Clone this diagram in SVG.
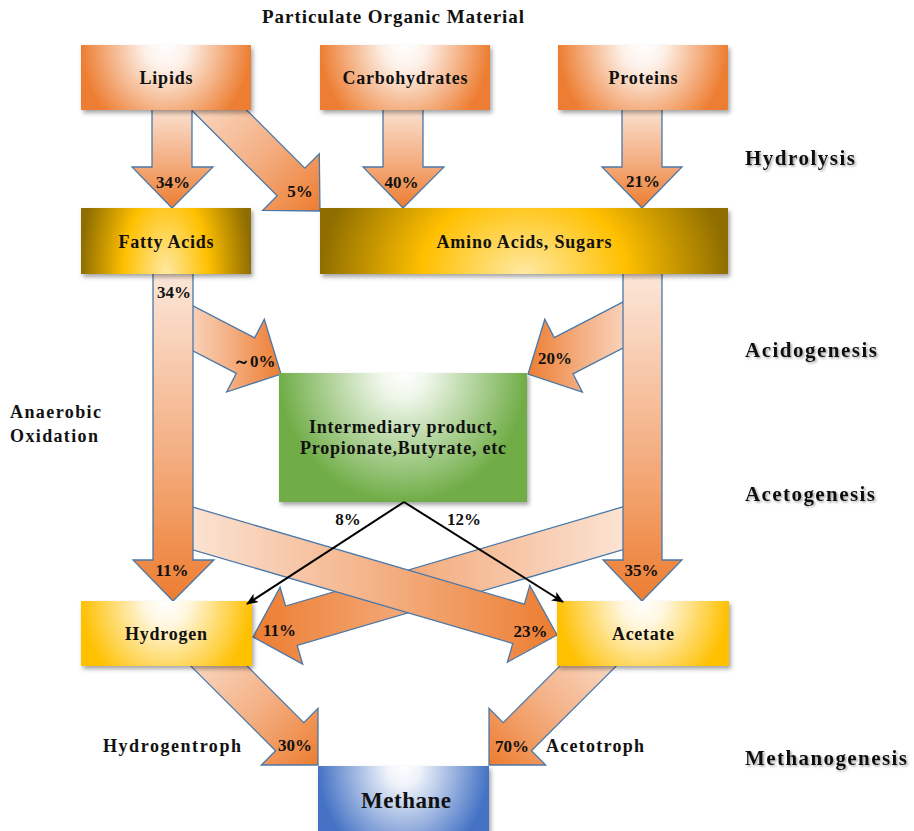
<svg xmlns="http://www.w3.org/2000/svg" width="914" height="831" viewBox="0 0 914 831">
<defs>
<style>
.t{font-family:"Liberation Serif","Times New Roman",serif;font-weight:bold;fill:#111;}
.lbl{font-size:18px;text-anchor:middle;}
.pct{font-size:17px;text-anchor:middle;}
.phase{font-size:21px;filter:url(#tsh);}
.arr{stroke:#4a78a8;stroke-width:1.3;stroke-linejoin:miter;}
.box{filter:url(#sh);}
.blk{stroke:#000;stroke-width:2;fill:none;marker-end:url(#ah);}
</style>
<filter id="sh" x="-10%" y="-10%" width="125%" height="135%">
<feDropShadow dx="2" dy="3" stdDeviation="2" flood-color="#000" flood-opacity="0.35"/>
</filter>
<filter id="tsh" x="-5%" y="-20%" width="115%" height="150%">
<feDropShadow dx="1.5" dy="1.5" stdDeviation="0.8" flood-color="#666" flood-opacity="0.6"/>
</filter>
<marker id="ah" markerWidth="12" markerHeight="10" refX="11" refY="5" orient="auto" markerUnits="userSpaceOnUse">
<path d="M0,0 L12,5 L0,10 L3,5 Z" fill="#000"/>
</marker>
<linearGradient id="gV" x1="0" y1="0" x2="0" y2="1">
<stop offset="0" stop-color="#fce9dd"/><stop offset="0.55" stop-color="#f4b084"/><stop offset="1" stop-color="#ed7d31"/>
</linearGradient>
<linearGradient id="gDR" x1="0" y1="0" x2="1" y2="1">
<stop offset="0" stop-color="#fbe3d3"/><stop offset="0.55" stop-color="#f4b084"/><stop offset="1" stop-color="#ed7d31"/>
</linearGradient>
<linearGradient id="gDL" x1="1" y1="0" x2="0" y2="1">
<stop offset="0" stop-color="#fbe3d3"/><stop offset="0.55" stop-color="#f4b084"/><stop offset="1" stop-color="#ed7d31"/>
</linearGradient>
<linearGradient id="gR" x1="0" y1="0" x2="1" y2="0">
<stop offset="0" stop-color="#fce9dd"/><stop offset="0.55" stop-color="#f4b084"/><stop offset="1" stop-color="#ed7d31"/>
</linearGradient>
<linearGradient id="gL" x1="1" y1="0" x2="0" y2="0">
<stop offset="0" stop-color="#fce9dd"/><stop offset="0.55" stop-color="#f4b084"/><stop offset="1" stop-color="#ed7d31"/>
</linearGradient>
<radialGradient id="gOr" cx="0.5" cy="0" r="0.5" gradientTransform="translate(0.5 0) scale(1 3) translate(-0.5 0)">
<stop offset="0" stop-color="#ffffff"/><stop offset="0.25" stop-color="#fdf1e9"/><stop offset="1" stop-color="#ed7d31"/>
</radialGradient>
<radialGradient id="gYe" cx="0.5" cy="0" r="0.5" gradientTransform="translate(0.5 0) scale(1 3) translate(-0.5 0)">
<stop offset="0" stop-color="#ffffff"/><stop offset="0.25" stop-color="#fff7e0"/><stop offset="1" stop-color="#ffc000"/>
</radialGradient>
<radialGradient id="gGr" cx="0.5" cy="0" r="0.5" gradientTransform="translate(0.5 0) scale(1 2) translate(-0.5 0)">
<stop offset="0" stop-color="#ffffff"/><stop offset="0.2" stop-color="#eef6e9"/><stop offset="1" stop-color="#70ad47"/>
</radialGradient>
<radialGradient id="gBl" cx="0.5" cy="0" r="0.5" gradientTransform="translate(0.5 0) scale(1 3) translate(-0.5 0)">
<stop offset="0" stop-color="#ffffff"/><stop offset="0.2" stop-color="#eef2fa"/><stop offset="1" stop-color="#4472c4"/>
</radialGradient>
<radialGradient id="gGo" cx="0.5" cy="1" r="0.5" gradientTransform="translate(0.5 1) scale(1 5) translate(-0.5 -1)">
<stop offset="0" stop-color="#ffe9a3"/><stop offset="0.5" stop-color="#ffc000"/><stop offset="1" stop-color="#8f6d00"/>
</radialGradient>
</defs>
<rect width="914" height="831" fill="#ffffff"/>

<g id="connectors">
<polygon id="a-lip-ami" class="arr" fill="url(#gDR)" points="190.2,108.8 277.2,195.8 262.7,210.3 320,211 319.3,153.7 304.8,168.2 217.8,81.2"/>
<polygon id="a-lip-fat" class="arr" fill="url(#gV)" points="152,100 192,100 192,167 213,167 172,208 132,167 152,167"/>
<polygon id="a-car-ami" class="arr" fill="url(#gV)" points="383,100 423,100 423,167 444,167 403,208 363,167 383,167"/>
<polygon id="a-pro-ami" class="arr" fill="url(#gV)" points="622,100 662,100 662,167 682,167 642,208 602,167 622,167"/>
<polygon id="a-fat-int" class="arr" fill="url(#gR)" points="166,337 236.3,373.4 226.7,392 281,374 264.3,319.2 254.7,337.8 184.4,301.5"/>
<polygon id="a-ami-int" class="arr" fill="url(#gL)" points="631.4,297.6 554.2,337.5 544.8,319.3 528,374 582.4,392.1 573,373.9 650.2,334"/>
<polygon id="a-ami-hyd" class="arr" fill="url(#gL)" points="635.4,503.2 285.6,606 280.1,587.3 253,637 302.7,664.1 297.2,645.4 647,542.6"/>
<polygon id="a-fat-ace" class="arr" fill="url(#gR)" points="179.6,503.2 524.4,604.1 529.8,585.4 557,635 507.4,662.2 512.8,643.5 168,542.6"/>
<polygon id="a-fat-hyd" class="arr" fill="url(#gV)" points="153,265 193,265 193,560 214,560 173,601 133,560 153,560"/>
<polygon id="a-ami-ace" class="arr" fill="url(#gV)" points="623,265 662,265 662,560 682,560 642,601 603,560 623,560"/>
<polygon id="a-hyd-met" class="arr" fill="url(#gDR)" points="188.9,664.1 275.6,750.8 261.4,765 318,765 318,708.4 303.8,722.6 217.1,635.9"/>
<polygon id="a-ace-met" class="arr" fill="url(#gDL)" points="618.1,664.1 531.4,750.8 545.6,765 489,765 489,708.4 503.2,722.6 589.9,635.9"/>
</g>

<g id="n-lipids"><rect class="box" x="81" y="45" width="170" height="65" fill="url(#gOr)"/><text class="t lbl" x="166" y="83.5" textLength="53">Lipids</text></g>
<g id="n-carbohydrates"><rect class="box" x="320" y="45" width="170" height="65" fill="url(#gOr)"/><text class="t lbl" x="405" y="83.5" textLength="125">Carbohydrates</text></g>
<g id="n-proteins"><rect class="box" x="558" y="45" width="170" height="65" fill="url(#gOr)"/><text class="t lbl" x="643" y="83.5" textLength="69">Proteins</text></g>
<g id="n-fatty"><rect class="box" x="81" y="208" width="170" height="66" fill="url(#gGo)"/><text class="t lbl" x="166" y="248" textLength="95">Fatty Acids</text></g>
<g id="n-amino"><rect class="box" x="320" y="208" width="408" height="66" fill="url(#gGo)"/><text class="t lbl" x="524" y="248" textLength="175">Amino Acids, Sugars</text></g>
<g id="n-inter"><rect class="box" x="279" y="373" width="248" height="129" fill="url(#gGr)"/><text class="t lbl" x="403" y="433" textLength="188">Intermediary product,</text><text class="t lbl" x="403" y="454" textLength="206">Propionate,Butyrate, etc</text></g>
<g id="n-hydrogen"><rect class="box" x="81" y="601" width="171" height="65" fill="url(#gYe)"/><text class="t lbl" x="166" y="640" textLength="82">Hydrogen</text></g>
<g id="n-acetate"><rect class="box" x="557" y="601" width="172" height="65" fill="url(#gYe)"/><text class="t lbl" x="643" y="640" textLength="62">Acetate</text></g>
<g id="n-methane"><rect class="box" x="318" y="766" width="171" height="68" fill="url(#gBl)"/><text class="t" x="406" y="808" font-size="23" text-anchor="middle" textLength="90">Methane</text></g>

<g id="black-arrows">
<line class="blk" x1="404" y1="502" x2="247" y2="604"/>
<line class="blk" x1="404" y1="502" x2="563" y2="602"/>
</g>

<g id="labels">
<text class="t" x="262" y="23" font-size="19" textLength="262">Particulate Organic Material</text>
<text class="t phase" x="745" y="165" textLength="110">Hydrolysis</text>
<text class="t phase" x="745" y="357" textLength="132">Acidogenesis</text>
<text class="t phase" x="745" y="501" textLength="130">Acetogenesis</text>
<text class="t phase" x="745" y="765" textLength="162">Methanogenesis</text>
<text class="t" x="10" y="418" font-size="18" textLength="91">Anaerobic</text>
<text class="t" x="10" y="442" font-size="18" textLength="88">Oxidation</text>
<text class="t" x="103" y="752" font-size="18" textLength="138">Hydrogentroph</text>
<text class="t" x="546" y="752" font-size="18" textLength="98">Acetotroph</text>
<text class="t pct" x="173" y="188">34%</text>
<text class="t pct" x="300" y="197">5%</text>
<text class="t pct" x="401.5" y="188">40%</text>
<text class="t pct" x="643" y="187">21%</text>
<text class="t pct" x="174" y="298">34%</text>
<text class="t" x="233" y="367" font-size="17">～0%</text>
<text class="t pct" x="555" y="364">20%</text>
<text class="t pct" x="348" y="525">8%</text>
<text class="t pct" x="464" y="525">12%</text>
<text class="t pct" x="172" y="576">11%</text>
<text class="t pct" x="641.5" y="576">35%</text>
<text class="t pct" x="279.5" y="636">11%</text>
<text class="t pct" x="530.5" y="637">23%</text>
<text class="t pct" x="295" y="751">30%</text>
<text class="t pct" x="512" y="752">70%</text>
</g>
</svg>
